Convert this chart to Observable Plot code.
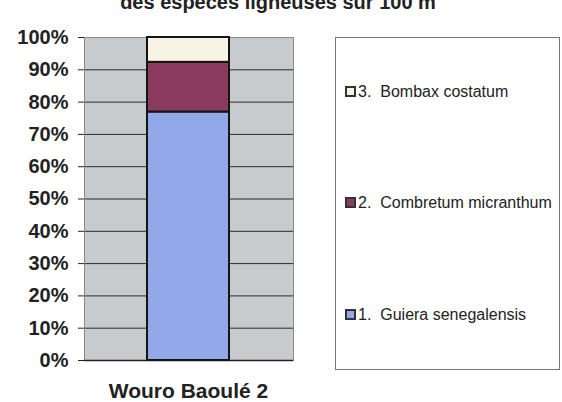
<!DOCTYPE html>
<html>
<head>
<meta charset="utf-8">
<script src="https://cdn.jsdelivr.net/npm/d3@7"></script>
<script src="https://cdn.jsdelivr.net/npm/@observablehq/plot@0.6"></script>
<style>
  html, body { margin: 0; padding: 0; background: #fff; }
  body { width: 562px; height: 402px; position: relative; overflow: hidden; font-family: Arial, "Liberation Sans", sans-serif; }
  #title { position: absolute; left: 0; width: 556px; top: -8px; text-align: center; font-size: 20px; font-weight: bold; line-height: 20px; color: #222; white-space: nowrap; }
  #chart { position: absolute; left: 0; top: 0; }
  #legend { position: absolute; left: 335px; top: 37px; width: 225px; height: 333px; border: 1px solid #777; box-sizing: border-box; background: #fff; }
  .item { position: absolute; left: 9px; font-size: 16px; color: #222; white-space: pre; line-height: 18px; }
  .sw { display: inline-block; width: 7px; height: 7px; border: 2px solid #333; margin-right: 2px; vertical-align: 0px; }
</style>
</head>
<body>
<div id="title"></div>
<div id="chart"></div>
<div id="legend"></div>
<script>
const titleText = "des espèces ligneuses sur 100 m";
const site = "Wouro Baoulé 2";
const species = ["1. Guiera senegalensis", "2. Combretum micranthum", "3. Bombax costatum"];
const counts = [10, 2, 1];
const colors = ["#92a8e8", "#8c3b60", "#f7f4e3"];
const yTickPercents = [0, 10, 20, 30, 40, 50, 60, 70, 80, 90, 100];

document.getElementById("title").textContent = titleText;

const data = species.map((s, i) => ({site, species: s, count: counts[i]}));
const yTicks = yTickPercents.map(p => p / 100);

const chart = Plot.plot({
  width: 562,
  height: 402,
  marginLeft: 84,
  marginRight: 269,
  marginTop: 37,
  marginBottom: 42,
  style: {fontFamily: "Arial, 'Liberation Sans', sans-serif", background: "transparent"},
  x: {domain: [site], padding: 0.432, label: null},
  y: {domain: [0, 1], label: null},
  color: {domain: species, range: colors},
  marks: [
    Plot.frame({fill: "#c7cbce", stroke: null}),
    Plot.ruleY(yTicks, {stroke: "#2a2a2a", strokeWidth: 1}),
    Plot.frame({stroke: "#8a8a8a", strokeWidth: 1}),
    Plot.ruleY([0], {stroke: "#222", strokeWidth: 1.5}),
    Plot.barY(data, {x: "site", y: "count", fill: "species", offset: "normalize", order: species, stroke: "#151515", strokeWidth: 2}),
    Plot.axisY({ticks: yTicks, tickFormat: d => Math.round(d * 100) + "%", tickSize: 6, tickPadding: 10, fontSize: 20, fontWeight: "bold", fill: "#222", stroke: "#222"}),
    Plot.axisX({tickSize: 0, tickPadding: 23, fontSize: 21, fontWeight: "bold", fill: "#222"})
  ]
});
document.getElementById("chart").appendChild(chart);

const legend = document.getElementById("legend");
const legendTops = {"3. Bombax costatum": 45, "2. Combretum micranthum": 156, "1. Guiera senegalensis": 268};
species.slice().reverse().forEach(s => {
  const i = species.indexOf(s);
  const div = document.createElement("div");
  div.className = "item";
  div.style.top = legendTops[s] + "px";
  const sw = document.createElement("span");
  sw.className = "sw";
  sw.style.background = colors[i];
  div.appendChild(sw);
  div.appendChild(document.createTextNode(s.replace(". ", ".  ")));
  legend.appendChild(div);
});
</script>
</body>
</html>
